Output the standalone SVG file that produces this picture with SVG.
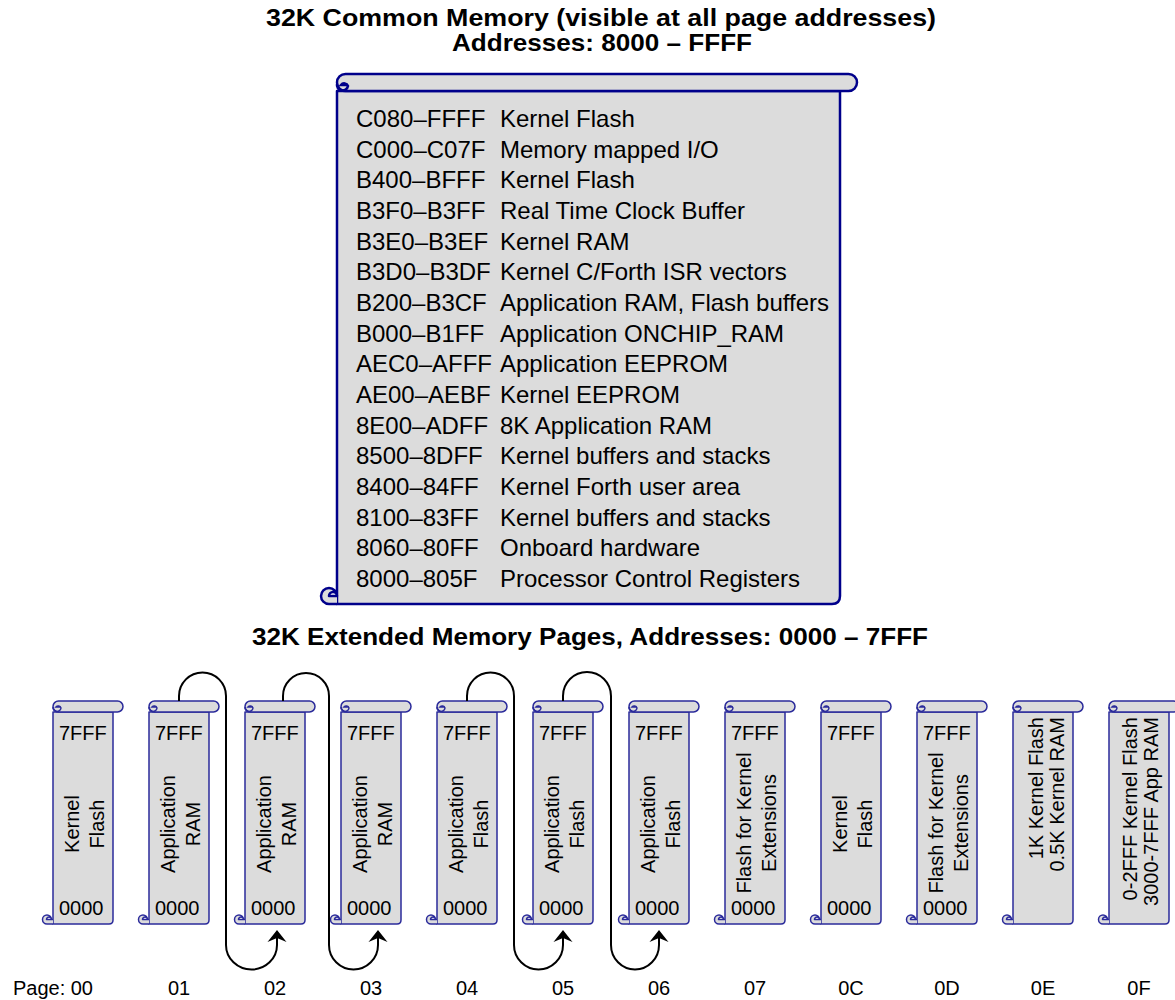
<svg xmlns="http://www.w3.org/2000/svg" xmlns:xlink="http://www.w3.org/1999/xlink" width="1175" height="1000" viewBox="0 0 1175 1000">
<style>
.t{font-family:"Liberation Sans",Arial,sans-serif;fill:#000}
.title{font-size:24px;font-weight:bold;text-anchor:middle}
.row{font-size:24px}
.s{font-size:20px}
.mid{text-anchor:middle}
.end{text-anchor:end}
.big{fill:#DCDCDC;stroke:#00008B;stroke-width:2.5;stroke-linejoin:round}
.bigc{fill:none;stroke:#00008B;stroke-width:2.5}
.sm{fill:#DCDCDC;stroke:#2B2B9B;stroke-width:1.5;stroke-linejoin:round}
.smc{fill:none;stroke:#2B2B9B;stroke-width:1.5}
.con{fill:none;stroke:#000;stroke-width:2}
</style>
<defs>
<marker id="arr" markerUnits="userSpaceOnUse" markerWidth="20" markerHeight="22" viewBox="-14 -11 16 22" refX="-6" refY="0" orient="auto">
<path d="M0,0 L-12,-9.5 L-8,0 L-12,9.5 Z" fill="#000"/>
</marker>
<g id="scroll">
<path class="sm" d="M0,11 H60 V219 Q60,223 56,223 H0 Z"/>
<path class="sm" d="M5.5,0 H64.5 A5.5,5.5 0 0 1 64.5,11 H5.5 A5.5,5.5 0 0 1 5.5,0 Z"/>
<path class="smc" d="M0,6 A4,4 0 1 0 8,7 A3,3 0 0 0 3,6 H8"/>
<path class="sm" d="M0,223 H-6 A4.5,4.5 0 1 1 -1.5,218.5 A2.5,2.5 0 0 0 -6.5,218.5 H0"/>
</g>
</defs>

<g id="title-common">
<text class="t title" x="601" y="26" textLength="670" lengthAdjust="spacingAndGlyphs">32K Common Memory (visible at all page addresses)</text>
<text class="t title" x="602" y="51" textLength="300" lengthAdjust="spacingAndGlyphs">Addresses: 8000 – FFFF</text>
</g>

<g id="common-memory">
<path class="big" d="M337,91 H840 V596 Q840,604 832,604 H337 Z"/>
<path class="big" d="M345.5,74 H848.5 A8.5,8.5 0 0 1 848.5,91 H345.5 A8.5,8.5 0 0 1 345.5,74 Z"/>
<path class="bigc" d="M337,84 A5.5,5.5 0 1 0 348,86 A4,4 0 0 0 341,85 H348"/>
<path class="big" d="M337,604 H329 A8,8 0 1 1 337,596 A4,4 0 0 0 329,596 H337"/>
<g class="t row">
<text x="356" y="127">C080–FFFF</text><text x="500" y="127">Kernel Flash</text>
<text x="356" y="158">C000–C07F</text><text x="500" y="158">Memory mapped I/O</text>
<text x="356" y="188">B400–BFFF</text><text x="500" y="188">Kernel Flash</text>
<text x="356" y="219">B3F0–B3FF</text><text x="500" y="219">Real Time Clock Buffer</text>
<text x="356" y="250">B3E0–B3EF</text><text x="500" y="250">Kernel RAM</text>
<text x="356" y="280">B3D0–B3DF</text><text x="500" y="280">Kernel C/Forth ISR vectors</text>
<text x="356" y="311">B200–B3CF</text><text x="500" y="311">Application RAM, Flash buffers</text>
<text x="356" y="342">B000–B1FF</text><text x="500" y="342">Application ONCHIP_RAM</text>
<text x="356" y="372">AEC0–AFFF</text><text x="500" y="372">Application EEPROM</text>
<text x="356" y="403">AE00–AEBF</text><text x="500" y="403">Kernel EEPROM</text>
<text x="356" y="434">8E00–ADFF</text><text x="500" y="434">8K Application RAM</text>
<text x="356" y="464">8500–8DFF</text><text x="500" y="464">Kernel buffers and stacks</text>
<text x="356" y="495">8400–84FF</text><text x="500" y="495">Kernel Forth user area</text>
<text x="356" y="526">8100–83FF</text><text x="500" y="526">Kernel buffers and stacks</text>
<text x="356" y="556">8060–80FF</text><text x="500" y="556">Onboard hardware</text>
<text x="356" y="587">8000–805F</text><text x="500" y="587">Processor Control Registers</text>
</g>
</g>

<g id="title-extended">
<text class="t title" x="590" y="645" textLength="676" lengthAdjust="spacingAndGlyphs">32K Extended Memory Pages, Addresses: 0000 – 7FFF</text>
</g>

<g id="page-00" transform="translate(53,701)">
<use xlink:href="#scroll"/>
<text class="t s" x="6" y="39">7FFF</text><text class="t s" x="6" y="214">0000</text>
<text class="t s mid" transform="translate(30,123) rotate(-90)"><tspan x="0" y="-4">Kernel</tspan><tspan x="0" y="21">Flash</tspan></text>
</g>
<g id="page-01" transform="translate(149,701)">
<use xlink:href="#scroll"/>
<text class="t s" x="6" y="39">7FFF</text><text class="t s" x="6" y="214">0000</text>
<text class="t s mid" transform="translate(30,123) rotate(-90)"><tspan x="0" y="-4">Application</tspan><tspan x="0" y="21">RAM</tspan></text>
</g>
<g id="page-02" transform="translate(245,701)">
<use xlink:href="#scroll"/>
<text class="t s" x="6" y="39">7FFF</text><text class="t s" x="6" y="214">0000</text>
<text class="t s mid" transform="translate(30,123) rotate(-90)"><tspan x="0" y="-4">Application</tspan><tspan x="0" y="21">RAM</tspan></text>
</g>
<g id="page-03" transform="translate(341,701)">
<use xlink:href="#scroll"/>
<text class="t s" x="6" y="39">7FFF</text><text class="t s" x="6" y="214">0000</text>
<text class="t s mid" transform="translate(30,123) rotate(-90)"><tspan x="0" y="-4">Application</tspan><tspan x="0" y="21">RAM</tspan></text>
</g>
<g id="page-04" transform="translate(437,701)">
<use xlink:href="#scroll"/>
<text class="t s" x="6" y="39">7FFF</text><text class="t s" x="6" y="214">0000</text>
<text class="t s mid" transform="translate(30,123) rotate(-90)"><tspan x="0" y="-4">Application</tspan><tspan x="0" y="21">Flash</tspan></text>
</g>
<g id="page-05" transform="translate(533,701)">
<use xlink:href="#scroll"/>
<text class="t s" x="6" y="39">7FFF</text><text class="t s" x="6" y="214">0000</text>
<text class="t s mid" transform="translate(30,123) rotate(-90)"><tspan x="0" y="-4">Application</tspan><tspan x="0" y="21">Flash</tspan></text>
</g>
<g id="page-06" transform="translate(629,701)">
<use xlink:href="#scroll"/>
<text class="t s" x="6" y="39">7FFF</text><text class="t s" x="6" y="214">0000</text>
<text class="t s mid" transform="translate(30,123) rotate(-90)"><tspan x="0" y="-4">Application</tspan><tspan x="0" y="21">Flash</tspan></text>
</g>
<g id="page-07" transform="translate(725,701)">
<use xlink:href="#scroll"/>
<text class="t s" x="6" y="39">7FFF</text><text class="t s" x="6" y="214">0000</text>
<text class="t s mid" transform="translate(30,122) rotate(-90)"><tspan x="0" y="-4">Flash for Kernel</tspan><tspan x="0" y="21">Extensions</tspan></text>
</g>
<g id="page-0C" transform="translate(821,701)">
<use xlink:href="#scroll"/>
<text class="t s" x="6" y="39">7FFF</text><text class="t s" x="6" y="214">0000</text>
<text class="t s mid" transform="translate(30,123) rotate(-90)"><tspan x="0" y="-4">Kernel</tspan><tspan x="0" y="21">Flash</tspan></text>
</g>
<g id="page-0D" transform="translate(917,701)">
<use xlink:href="#scroll"/>
<text class="t s" x="6" y="39">7FFF</text><text class="t s" x="6" y="214">0000</text>
<text class="t s mid" transform="translate(30,122) rotate(-90)"><tspan x="0" y="-4">Flash for Kernel</tspan><tspan x="0" y="21">Extensions</tspan></text>
</g>
<g id="page-0E" transform="translate(1013,701)">
<use xlink:href="#scroll"/>
<text class="t s end" transform="translate(30,16) rotate(-90)"><tspan x="0" y="0">1K Kernel Flash</tspan><tspan x="0" y="21">0.5K Kernel RAM</tspan></text>
</g>
<g id="page-0F" transform="translate(1109,701)">
<use xlink:href="#scroll"/>
<text class="t s end" transform="translate(28,16) rotate(-90)"><tspan x="0" y="0">0-2FFF Kernel Flash</tspan><tspan x="0" y="21">3000-7FFF App RAM</tspan></text>
</g>

<g id="page-labels" class="t s">
<text class="end" x="93" y="995">Page: 00</text>
<text class="mid" x="179" y="995">01</text>
<text class="mid" x="275" y="995">02</text>
<text class="mid" x="371" y="995">03</text>
<text class="mid" x="467" y="995">04</text>
<text class="mid" x="563" y="995">05</text>
<text class="mid" x="659" y="995">06</text>
<text class="mid" x="755" y="995">07</text>
<text class="mid" x="851" y="995">0C</text>
<text class="mid" x="947" y="995">0D</text>
<text class="mid" x="1043" y="995">0E</text>
<text class="mid" x="1139" y="995">0F</text>
</g>

<g id="connectors">
<path class="con" marker-end="url(#arr)" d="M179,701 V696 A23.5,23.5 0 0 1 226,696 V945 A25.5,24.5 0 0 0 277,945 V936"/>
<path class="con" marker-end="url(#arr)" d="M283,701 V696 A23,23 0 0 1 329,696 V945 A24.5,24.5 0 0 0 378,945 V936"/>
<path class="con" marker-end="url(#arr)" d="M467,701 V696 A23.5,23.5 0 0 1 514,696 V945 A24.5,24.5 0 0 0 563,945 V936"/>
<path class="con" marker-end="url(#arr)" d="M563,701 V696 A24,24 0 0 1 611,696 V945 A24,24.5 0 0 0 659,945 V936"/>
</g>
</svg>
